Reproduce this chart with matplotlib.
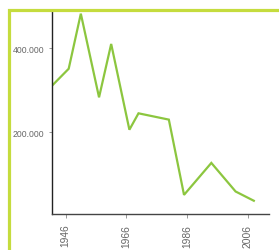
import matplotlib
matplotlib.use("Agg")
import matplotlib.pyplot as plt
from matplotlib.patches import Rectangle
from matplotlib.ticker import FuncFormatter

years = [1941, 1947, 1951, 1957, 1961, 1967, 1970, 1980, 1985, 1994, 2002, 2008]
values = [307000, 351000, 482000, 283000, 410000, 206000, 245000, 230000, 51000, 127000, 59000, 37000]
xticks = [1946, 1966, 1986, 2006]
yticks = [200000, 400000]

W, H = 279, 251
fig = plt.figure(figsize=(W / 100, H / 100), dpi=100)

# light green frame
frame = Rectangle((9 / W, -0.1), 1.2, (H - 10.5) / H + 0.1, transform=fig.transFigure,
                  fill=False, edgecolor="#c5dc3e", linewidth=2.3, clip_on=False)
fig.patches.append(frame)

ax = fig.add_axes([52 / W, (H - 215) / H, (269 - 52) / W, (215 - 13) / H])
ax.plot(years, values, color="#8cc63f", linewidth=1.6, solid_joinstyle="miter")
ax.set_xlim(1941.5, 2013)
ax.set_ylim(5500, 486000)
ax.set_xticks(xticks)
ax.set_yticks(yticks)
ax.yaxis.set_major_formatter(FuncFormatter(lambda v, p: f"{int(v):,}".replace(",", ".")))
for s in ["top", "right"]:
    ax.spines[s].set_visible(False)
ax.spines["left"].set_color("#222222")
ax.spines["bottom"].set_color("#444444")
ax.spines["left"].set_linewidth(1.0)
ax.spines["bottom"].set_linewidth(1.0)
ax.tick_params(axis="y", length=2.5, width=0.6, color="#888888", pad=3,
               labelsize=6.2, labelcolor="#666666")
ax.tick_params(axis="x", length=3, width=0.6, color="#888888", pad=4,
               labelsize=7.4, labelcolor="#666666", labelrotation=90)
for lab in ax.get_xticklabels() + ax.get_yticklabels():
    lab.set_family("Liberation Sans")
ax.patch.set_alpha(0)
fig.savefig("out.png", dpi=100)
